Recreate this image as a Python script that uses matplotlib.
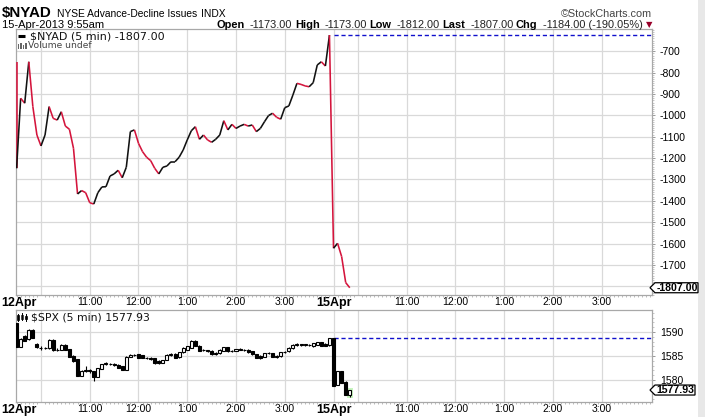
import matplotlib
matplotlib.use('Agg')
import matplotlib.pyplot as plt
from matplotlib.patches import Rectangle, Polygon
from matplotlib.collections import LineCollection
from matplotlib.ticker import MultipleLocator, FixedLocator
from matplotlib import font_manager
import numpy as np

# ---------------- data ----------------
nyad_open = -752
nyad_day1 = [-1248, -920, -943, -749, -959, -1092, -1143, -1092, -959, -1014,
             -1022, -983, -1050, -1065, -1154, -1368, -1352, -1362, -1409, -1415,
             -1362, -1335, -1334, -1284, -1274, -1257, -1292, -1243, -1076, -1068,
             -1131, -1170, -1196, -1212, -1248, -1274, -1243, -1237, -1217, -1217,
             -1196, -1162, -1115, -1072, -1053, -1112, -1092, -1115, -1126, -1112,
             -1092, -1025, -1068, -1042, -1061, -1050, -1042, -1050, -1045, -1076,
             -1061, -1030, -1001, -990, -1009, -1018, -964, -956, -905, -850,
             -855, -862, -866, -847, -764, -749, -769, -624]
nyad_day2 = [-1622, -1599, -1661, -1783, -1807]
nyad_prev_close = -623
nyad_last = -1807

spx_open = [1591.9, 1586.9, 1589.2, 1588.5, 1590.5, 1587.6, 1586.7, 1586.6, 1586.6, 1588.4,
            1586.2, 1586.3, 1587.4, 1586.4, 1585.1, 1584.3, 1580.9, 1581.9, 1582.0, 1581.8,
            1580.7, 1582.4, 1583.3, 1583.4, 1583.4, 1583.2, 1582.9, 1582.1, 1584.9, 1585.2,
            1585.4, 1585.2, 1584.6, 1584.6, 1584.5, 1584.0, 1583.6, 1584.2, 1585.3, 1585.5,
            1584.8, 1585.8, 1586.3, 1586.7, 1588.2, 1587.2, 1586.2, 1586.2, 1586.1, 1585.5,
            1585.6, 1586.1, 1586.8, 1586.0, 1586.1, 1586.4, 1586.3, 1586.3, 1586.0, 1585.4,
            1585.1, 1584.9, 1585.6, 1585.6, 1584.9, 1585.0, 1585.8, 1586.0, 1586.6, 1587.3,
            1587.5, 1587.4, 1587.4, 1587.0, 1587.4, 1587.9, 1587.6, 1587.3,
            1588.75, 1579.0, 1581.8, 1579.5, 1576.9]
spx_close = [1586.9, 1588.6, 1588.2, 1590.5, 1588.8, 1586.8, 1586.6, 1586.7, 1588.4, 1586.2,
             1586.3, 1587.4, 1586.3, 1584.9, 1583.9, 1580.9, 1581.9, 1582.0, 1581.8, 1580.7,
             1582.5, 1583.3, 1583.5, 1583.3, 1583.1, 1582.6, 1582.1, 1584.9, 1585.2, 1585.3,
             1584.6, 1584.6, 1584.7, 1584.4, 1583.5, 1583.5, 1584.1, 1585.3, 1585.4, 1584.7,
             1585.8, 1586.7, 1587.0, 1588.2, 1587.2, 1586.1, 1586.3, 1586.0, 1585.4, 1585.6,
             1586.3, 1586.8, 1586.0, 1586.1, 1586.4, 1586.3, 1586.2, 1585.8, 1585.4, 1584.6,
             1584.5, 1585.6, 1585.7, 1584.9, 1585.0, 1585.8, 1585.9, 1586.7, 1587.3, 1587.5,
             1587.4, 1587.4, 1587.3, 1587.7, 1587.9, 1587.2, 1587.2, 1588.75,
             1578.8, 1581.8, 1579.4, 1576.9, 1577.93]
spx_high = [1591.9, 1588.7, 1589.3, 1590.6, 1590.6, 1587.7, 1587.0, 1586.9, 1588.5, 1588.5,
            1586.6, 1587.5, 1587.5, 1586.5, 1585.2, 1584.4, 1582.0, 1582.9, 1582.3, 1581.9,
            1582.6, 1583.4, 1583.7, 1583.6, 1583.5, 1583.3, 1583.0, 1585.0, 1585.4, 1585.5,
            1585.5, 1585.3, 1584.9, 1584.8, 1584.6, 1584.1, 1584.2, 1585.4, 1585.6, 1585.6,
            1585.9, 1586.8, 1587.1, 1588.3, 1588.3, 1587.3, 1586.5, 1586.3, 1586.2, 1585.8,
            1586.4, 1586.9, 1586.9, 1586.3, 1586.5, 1586.6, 1586.5, 1586.4, 1586.1, 1585.5,
            1585.2, 1585.7, 1585.9, 1585.7, 1585.2, 1585.9, 1586.1, 1586.8, 1587.5, 1587.7,
            1587.6, 1587.6, 1587.6, 1587.8, 1588.0, 1588.0, 1587.7, 1588.85,
            1588.85, 1581.9, 1581.9, 1579.8, 1578.0]
spx_low = [1586.8, 1586.8, 1588.1, 1588.4, 1588.7, 1586.7, 1586.2, 1586.4, 1586.5, 1586.1,
           1586.0, 1586.2, 1586.2, 1584.8, 1583.8, 1580.8, 1580.8, 1581.6, 1581.5, 1579.8,
           1580.6, 1582.3, 1583.1, 1583.1, 1582.9, 1582.5, 1582.0, 1582.0, 1584.8, 1585.0,
           1584.5, 1584.5, 1584.4, 1584.2, 1583.4, 1583.3, 1583.5, 1584.1, 1585.1, 1584.6,
           1584.7, 1585.7, 1586.2, 1586.6, 1587.1, 1586.0, 1586.0, 1585.8, 1585.3, 1585.3,
           1585.5, 1586.0, 1585.9, 1585.9, 1586.0, 1586.2, 1586.0, 1585.7, 1585.3, 1584.5,
           1584.3, 1584.8, 1585.4, 1584.8, 1584.7, 1584.9, 1585.7, 1585.9, 1586.5, 1587.2,
           1587.2, 1587.2, 1587.2, 1586.9, 1587.3, 1587.1, 1587.1, 1587.2,
           1578.7, 1578.9, 1579.3, 1576.8, 1576.5]
spx_prev_close = 1588.85
spx_last = 1577.93

grid_bars = [6, 18, 30, 42, 54, 66, 78, 84, 96, 108, 120, 132, 144]
grid_labels = ['', '11:00', '12:00', '1:00', '2:00', '3:00', '15Apr',
               '', '11:00', '12:00', '1:00', '2:00', '3:00']
first_day_label = '12Apr'
nyad_yticks = [-1800, -1700, -1600, -1500, -1400, -1300, -1200, -1100, -1000, -900, -800, -700]
spx_yticks = [1580, 1585, 1590]
header_stats = [('Open', '-1173.00'), ('High', '-1173.00'), ('Low', '-1812.00'),
                ('Last', '-1807.00'), ('Chg', '-1184.00 (-190.05%)')]

# ---------------- fonts ----------------
avail = {f.name for f in font_manager.fontManager.ttflist}
if 'Liberation Sans Narrow' in avail:
    NARROW, NS = 'Liberation Sans Narrow', 1.0
else:
    NARROW, NS = 'Liberation Sans', 0.84
plt.rcParams['font.family'] = 'Liberation Sans'

W, H = 705, 417
fig = plt.figure(figsize=(W / 100, H / 100), dpi=100)
fig.patch.set_facecolor('white')

L_PX, R_PX = 15.5, 652.3
def rect(top, bottom):
    return [L_PX / W, 1 - bottom / H, (R_PX - L_PX) / W, (bottom - top) / H]

ax1 = fig.add_axes(rect(29.3, 295))
ax2 = fig.add_axes(rect(310, 401.7))

GRID = '#d9d9d9'
SPINE = '#a8a8a8'
RED = '#d4143c'

for ax in (ax1, ax2):
    ax.set_xlim(-0.27, 156.46)
    ax.xaxis.set_major_locator(FixedLocator(grid_bars))
    ax.set_xticklabels(grid_labels)
    ax.xaxis.set_minor_locator(MultipleLocator(1))
    ax.tick_params(axis='x', which='major', length=0, pad=1.6, labelsize=7.5)
    ax.tick_params(axis='x', which='minor', length=1.6, width=0.6, color='#b0b0b0')
    ax.yaxis.tick_right()
    ax.tick_params(axis='y', which='major', length=2.5, width=0.7, pad=3,
                   color='#999999', labelsize=7.5)
    ax.tick_params(axis='y', which='minor', length=1.5, width=0.5, color='#b0b0b0')
    ax.grid(True, which='major', color=GRID, lw=0.9)
    ax.set_axisbelow(True)
    for sp in ax.spines.values():
        sp.set_color(SPINE)
        sp.set_linewidth(0.9)
    lbls = ax.get_xticklabels()
    lbls[6].set_fontweight('bold')
    lbls[6].set_fontsize(9)

# ---------------- NYAD line ----------------
nyad_vals = np.array(nyad_day1 + nyad_day2, dtype=float)
xs = np.concatenate([[0], np.arange(len(nyad_vals))])
ys = np.concatenate([[nyad_open], nyad_vals])
pts = np.column_stack([xs, ys])
segs = np.stack([pts[:-1], pts[1:]], axis=1)
cols = ['#111111' if ys[k + 1] >= ys[k] else RED for k in range(len(ys) - 1)]
ax1.add_collection(LineCollection(segs, colors=cols, linewidths=1.15, zorder=3))
n1 = len(nyad_day1)
ax1.hlines(nyad_prev_close, n1, 156.46, colors='#1010cc', linestyles=(0, (3, 2)), lw=1.0, zorder=3)
ax1.set_ylim(-1841, -597)
ax1.yaxis.set_major_locator(FixedLocator(nyad_yticks))
ax1.set_yticklabels(['' if v == -1800 else '%d' % v for v in nyad_yticks])
ax1.yaxis.set_minor_locator(MultipleLocator(10))

# ---------------- SPX candles ----------------
ax2.set_ylim(1575.5, 1594.6)
ax2.yaxis.set_major_locator(FixedLocator(spx_yticks))
ax2.set_yticklabels(['%d' % v for v in spx_yticks])
ax2.yaxis.set_minor_locator(MultipleLocator(1))
last_i = len(spx_close) - 1
ax2.add_patch(Rectangle((last_i - 0.75, spx_low[last_i] - 0.3), 1.5,
                        spx_high[last_i] - spx_low[last_i] + 0.6,
                        facecolor='#c8f5c0', edgecolor='none', zorder=2))
bw = 0.74
for i, (o, h, l, c) in enumerate(zip(spx_open, spx_high, spx_low, spx_close)):
    ax2.vlines(i, l, h, colors='black', lw=0.8, zorder=3)
    lo, hi = min(o, c), max(o, c)
    up = c >= o
    ax2.add_patch(Rectangle((i - bw / 2, lo), bw, max(hi - lo, 0.04),
                            facecolor='white' if up else 'black',
                            edgecolor='black', lw=0.8, zorder=4))
n2 = len(nyad_day1)
ax2.hlines(spx_prev_close, n2, 156.46, colors='#1010cc', linestyles=(0, (3, 2)), lw=1.0, zorder=3)

# ---------------- overlay (pixel coordinates) ----------------
ov = fig.add_axes([0, 0, 1, 1], zorder=10)
ov.set_xlim(0, W)
ov.set_ylim(H, 0)
ov.axis('off')
ov.patch.set_alpha(0)

ov.add_patch(Rectangle((698, 0), 7, H, facecolor='#e8e8e8', edgecolor='none'))

renderer = fig.canvas.get_renderer()
def tw(t):
    return t.get_window_extent(renderer=renderer).width

def row_ltr(x, y, parts):
    for s, kw, gap in parts:
        t = ov.text(x, y, s, ha='left', va='baseline', **kw)
        x += tw(t) + gap

def row_rtl(x, y, parts):
    for s, kw, gap in reversed(parts):
        t = ov.text(x, y, s, ha='right', va='baseline', **kw)
        x -= tw(t) + gap

# header row 1
row_ltr(2, 16.5, [
    ('$NYAD', dict(family=NARROW, weight='bold', size=13 * NS), 5),
    ('NYSE Advance-Decline Issues', dict(family=NARROW, size=8.8 * NS), 4),
    ('INDX', dict(family=NARROW, size=8.8 * NS), 0),
])
ov.text(652, 16.5, '\u00a9StockCharts.com', ha='right', va='baseline',
        family=NARROW, size=9.3 * NS, color='#444444')
# header row 2
ov.text(2, 27.5, '15-Apr-2013 9:55am', ha='left', va='baseline',
        family=NARROW, size=9.5 * NS)
parts = []
for lab, val in header_stats:
    parts.append((lab, dict(family=NARROW, weight='bold', size=9.4 * NS), 2.5))
    parts.append((val, dict(family=NARROW, size=9.4 * NS, color='#222222'), 5))
parts.append(('\u25bc', dict(family='DejaVu Sans', size=6, color='#99002a'), 3))
row_rtl(652, 27.5, parts)

# legends
ov.plot([18, 25], [36, 36], color='black', lw=2.2, solid_capstyle='butt')
ov.text(30, 36, '$NYAD (5 min) %.2f' % nyad_last, ha='left', va='center',
        family='DejaVu Sans', size=8, color='#111111')
for bx, bh in zip([17.5, 20, 22.5, 25], [5, 6, 4, 5.5]):
    ov.add_patch(Rectangle((bx, 48.5 - bh), 1.8, bh, facecolor='#666666', edgecolor='none'))
ov.text(28, 45.5, 'Volume undef', ha='left', va='center',
        family='DejaVu Sans', size=6.6, color='#444444')

ov.plot([18.3, 18.3], [313.5, 321], color='black', lw=0.7)
ov.add_patch(Rectangle((17.3, 315), 2, 4.5, facecolor='black', edgecolor='black', lw=0.5))
ov.plot([22, 22], [313, 320], color='black', lw=0.7)
ov.add_patch(Rectangle((21, 314.5), 2, 4, facecolor='white', edgecolor='black', lw=0.5))
ov.plot([25.8, 25.8], [313.5, 320.5], color='black', lw=0.7)
ov.add_patch(Rectangle((24.8, 315.5), 2, 3.5, facecolor='black', edgecolor='black', lw=0.5))
ov.text(31, 317.3, '$SPX (5 min) %.2f' % spx_last, ha='left', va='center',
        family='DejaVu Sans', size=7.8, color='#111111')

# first-day labels
ov.text(1, 303, first_day_label, ha='left', va='center', weight='bold', size=9)
ov.text(1, 410.5, first_day_label, ha='left', va='center', weight='bold', size=9)

# last value tags
def tag(ax, value, txt, right):
    xd, yd = ax.transData.transform((156.46, value))
    yp = H - yd
    x0 = 650
    poly = Polygon([(x0, yp), (x0 + 5, yp - 5), (right, yp - 5), (right, yp + 5), (x0 + 5, yp + 5)],
                   closed=True, facecolor='white', edgecolor='black', lw=0.9, zorder=5)
    ov.add_patch(poly)
    ov.text((x0 + 5 + right) / 2 + 0.5, yp + 0.3, txt, ha='center', va='center',
            weight='bold', size=7.6, zorder=6)

tag(ax1, nyad_last, '%.2f' % nyad_last, 698)
tag(ax2, spx_last, '%.2f' % spx_last, 695)

fig.savefig('out.png', dpi=100)
